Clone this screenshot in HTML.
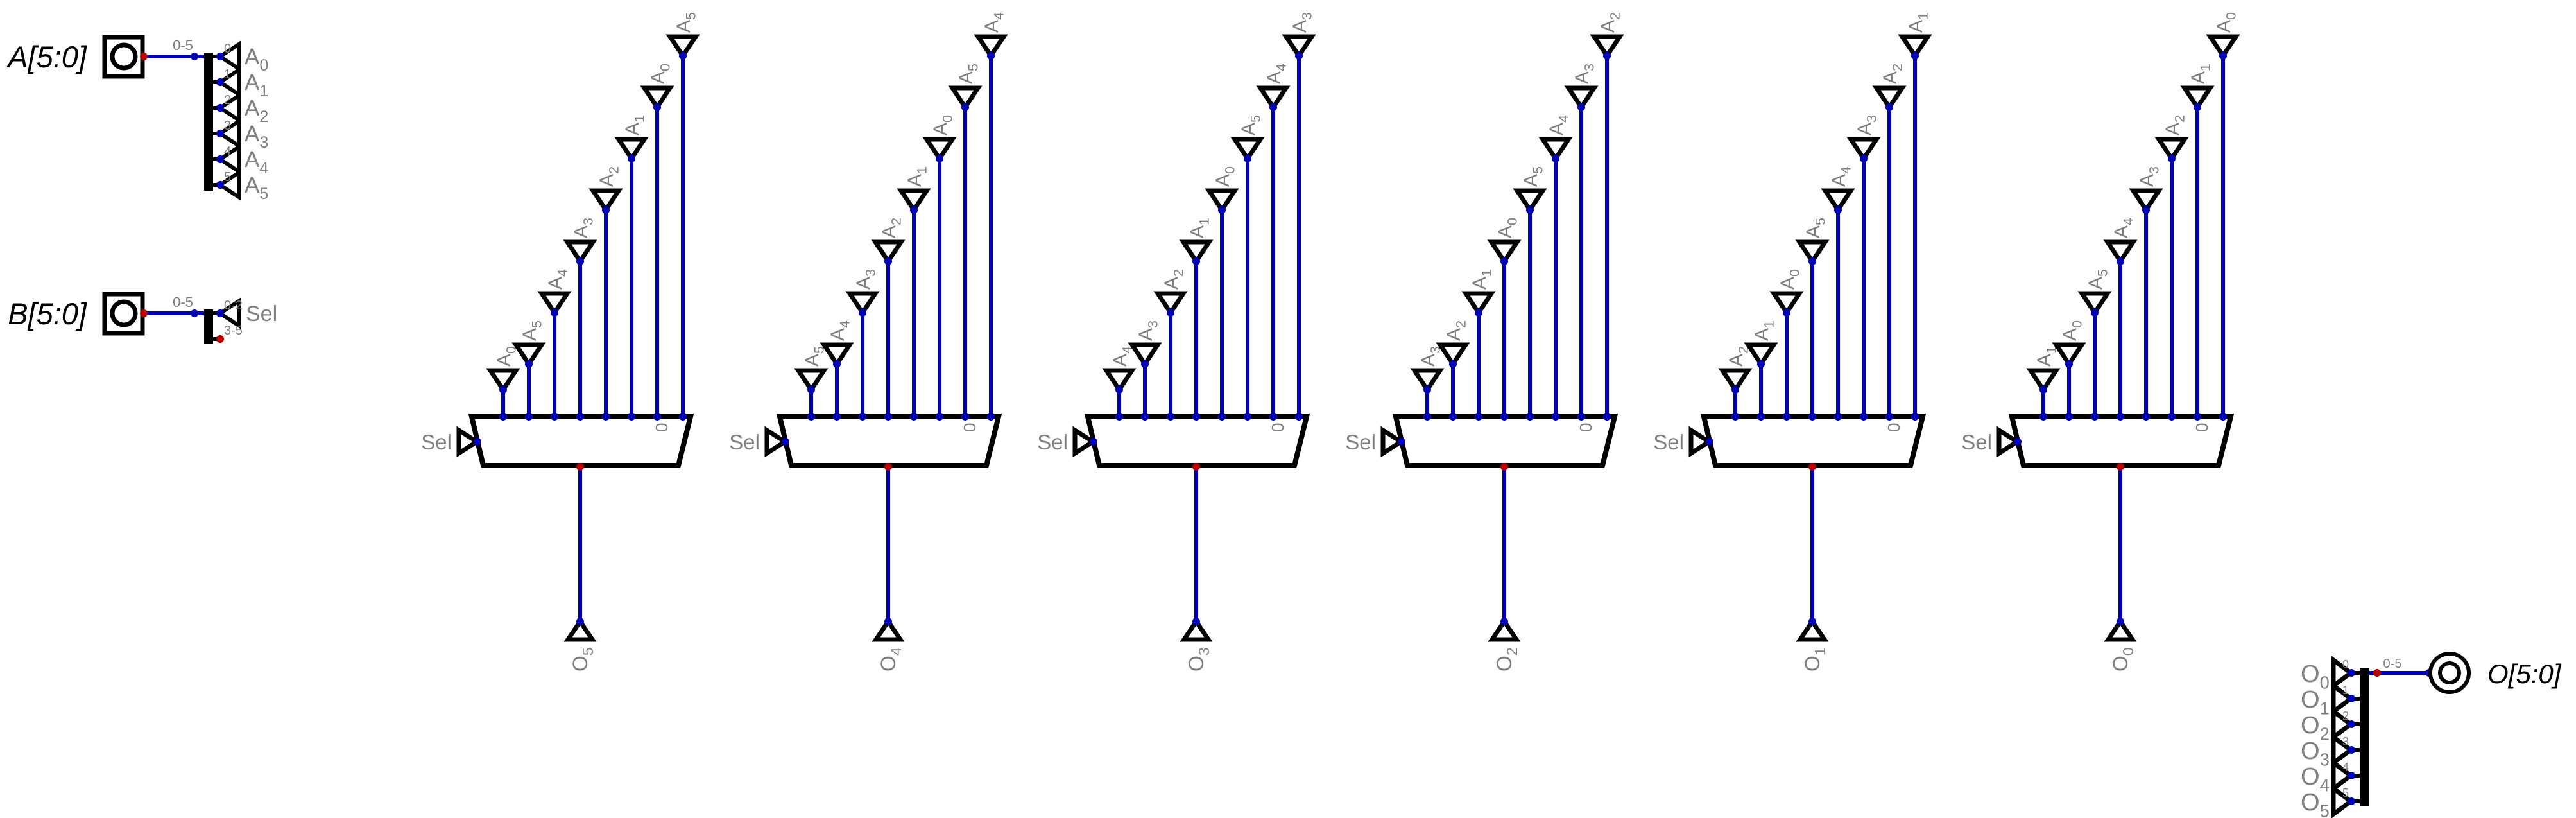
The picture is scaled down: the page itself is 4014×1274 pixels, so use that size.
<!DOCTYPE html>
<html><head><meta charset="utf-8"><style>
html,body{margin:0;padding:0;background:#fff;}
svg{display:block;}
text{font-family:"Liberation Sans",sans-serif;}
</style></head><body>
<svg id="c" width="4014" height="1274" viewBox="0 0 4014 1274" xmlns="http://www.w3.org/2000/svg"></svg>
<script>
const muxCount = 6;
const muxSpacing = 480;
const pinOrderOffsets = [0,1,2,3,4,5,6,7];
const pinTopY = [577,537,457,377,297,217,137,57];
const inputBits = [0,1,2,3,4,5];
const outputBits = [0,1,2,3,4,5];

const NS='http://www.w3.org/2000/svg';
const svg=document.getElementById('c');
const BLUE='#0000b4', RED='#b40000', GRAY='#808080';
function mk(tag,attrs,parent){const e=document.createElementNS(NS,tag);for(const k in attrs)e.setAttribute(k,attrs[k]);(parent||svg).appendChild(e);return e;}
function sub(t,main,s,fs){t.textContent='';const a=document.createElementNS(NS,'tspan');a.textContent=main;t.appendChild(a);const b=document.createElementNS(NS,'tspan');b.setAttribute('font-size',fs*0.72);b.setAttribute('dy',fs*0.28);b.textContent=s;t.appendChild(b);}
function dot(x,y,c,p){const d=mk('circle',{cx:x,cy:y,r:6,fill:c},p);return d;}

function inputBlock(y,label,name){
  const g=mk('g',{});
  const t=mk('text',{x:135,y:y+17,'font-size':47,'font-style':'italic','text-anchor':'end',fill:'#000'},g);t.textContent=label;
  mk('rect',{x:163,y:y-30,width:59,height:61,fill:'#fff',stroke:'#000','stroke-width':7},g);
  mk('circle',{cx:193,cy:y,r:18,fill:'none',stroke:'#000','stroke-width':7},g);
  mk('line',{x1:224,y1:y,x2:318,y2:y,stroke:BLUE,'stroke-width':6},g);
  dot(224,y,RED,g);dot(303,y,BLUE,g);
  const l=mk('text',{x:285,y:y-10,'font-size':22,'text-anchor':'middle',fill:GRAY},g);l.textContent='0-5';
  return g;
}
const AY=88;
const ga=inputBlock(AY,'A[5:0]','input-a');
mk('rect',{x:318,y:AY-6,width:14,height:215,fill:'#000'},ga);
inputBits.forEach(b=>{
  const y=AY+b*40;
  mk('line',{x1:331,y1:y,x2:343,y2:y,stroke:'#000','stroke-width':6},ga);
  const tr=mk('polygon',{points:`${343},${y} ${372},${y-19} ${372},${y+19}`,fill:'none',stroke:'#000','stroke-width':6},ga);
  
  dot(343,y,BLUE,ga);
  const n=mk('text',{x:349,y:y-6,'font-size':20,fill:GRAY},ga);n.textContent=String(b);
  const t=mk('text',{x:381,y:y+12,'font-size':35,fill:GRAY},ga);sub(t,'A',String(b),35);
});
const BY=488;
const gb=inputBlock(BY,'B[5:0]','input-b');
mk('rect',{x:318,y:BY-6,width:14,height:54,fill:'#000'},gb);
mk('line',{x1:331,y1:BY,x2:343,y2:BY,stroke:'#000','stroke-width':6},gb);
mk('line',{x1:331,y1:BY+40,x2:343,y2:BY+40,stroke:'#000','stroke-width':6},gb);
mk('polygon',{points:`343,${BY} 372,${BY-19} 372,${BY+19}`,fill:'none',stroke:'#000','stroke-width':6},gb);
dot(343,BY,BLUE,gb);dot(343,BY+40,RED,gb);
let tt=mk('text',{x:349,y:BY-6,'font-size':20,fill:GRAY},gb);tt.textContent='0-2';
tt=mk('text',{x:349,y:BY+33,'font-size':20,fill:GRAY},gb);tt.textContent='3-5';
tt=mk('text',{x:383,y:BY+12,'font-size':34,fill:GRAY},gb);tt.textContent='Sel';

for(let k=0;k<muxCount;k++){
  const ox=k*muxSpacing;
  const g=mk('g',{});
  pinOrderOffsets.forEach((i)=>{
    const x=784+ox+40*i, top=pinTopY[i];
    mk('line',{x1:x,y1:top+30,x2:x,y2:649,stroke:BLUE,'stroke-width':6},g);
    const tr=mk('polygon',{points:`${x-20},${top} ${x+20},${top} ${x},${top+30}`,fill:'none',stroke:'#000','stroke-width':7},g);
    
    dot(x,top+30,BLUE,g);
    const bit=((-k-i)%6+6)%6;
    const t=mk('text',{x:0,y:0,'font-size':30,fill:GRAY,transform:`translate(${x+11},${top-6}) rotate(-90)`},g);
    sub(t,'A',String(bit),30);
  });
  const m=mk('polygon',{points:`${735+ox},649 ${1076+ox},649 ${1057+ox},725 ${753+ox},725`,fill:'#fff',stroke:'#000','stroke-width':8},g);
  
  pinOrderOffsets.forEach(i=>dot(784+ox+40*i,649,BLUE,g));
  let z=mk('text',{x:0,y:0,'font-size':26,fill:GRAY,transform:`translate(${1040+ox},${673}) rotate(-90)`},g);z.textContent='0';
  mk('polygon',{points:`${715+ox},670 ${715+ox},706 ${743+ox},688`,fill:'none',stroke:'#000','stroke-width':7},g);
  dot(744+ox,688,BLUE,g);
  z=mk('text',{x:704+ox,y:700,'font-size':33,'text-anchor':'end',fill:GRAY},g);z.textContent='Sel';
  const cx=904+ox;
  mk('line',{x1:cx,y1:727,x2:cx,y2:968,stroke:BLUE,'stroke-width':6},g);
  dot(cx,727,RED,g);
  mk('polygon',{points:`${cx},${968} ${cx-19},${996} ${cx+19},${996}`,fill:'none',stroke:'#000','stroke-width':7},g);
  dot(cx,968,BLUE,g);
  const o=mk('text',{x:0,y:0,'font-size':32,fill:GRAY,transform:`translate(${cx+11},${1046}) rotate(-90)`},g);
  sub(o,'O',String(5-k),32);
}

const go=mk('g',{});
mk('rect',{x:3677,y:1041,width:15,height:215,fill:'#000'},go);
outputBits.forEach(b=>{
  const y=1048+b*40;
  mk('line',{x1:3663,y1:y,x2:3677,y2:y,stroke:'#000','stroke-width':6},go);
  mk('polygon',{points:`${3636},${y-20} ${3636},${y+20} ${3663},${y}`,fill:'none',stroke:'#000','stroke-width':7},go);
  dot(3664,y,BLUE,go);
  const n=mk('text',{x:3650,y:y-7,'font-size':18,fill:GRAY},go);n.textContent=String(b);
  const t=mk('text',{x:3585,y:y+14,'font-size':38,fill:GRAY},go);sub(t,'O',String(b),38);
});
mk('line',{x1:3692,y1:1048,x2:3785,y2:1048,stroke:BLUE,'stroke-width':6},go);
dot(3704,1048,RED,go);dot(3785,1048,BLUE,go);
tt=mk('text',{x:3728,y:1040,'font-size':20,'text-anchor':'middle',fill:GRAY},go);tt.textContent='0-5';
mk('circle',{cx:3817,cy:1048,r:30,fill:'#fff',stroke:'#000','stroke-width':6},go);
mk('circle',{cx:3817,cy:1048,r:15,fill:'none',stroke:'#000','stroke-width':6},go);
tt=mk('text',{x:3876,y:1064,'font-size':42,'font-style':'italic',fill:'#000'},go);tt.textContent='O[5:0]';
</script>
</body></html>
